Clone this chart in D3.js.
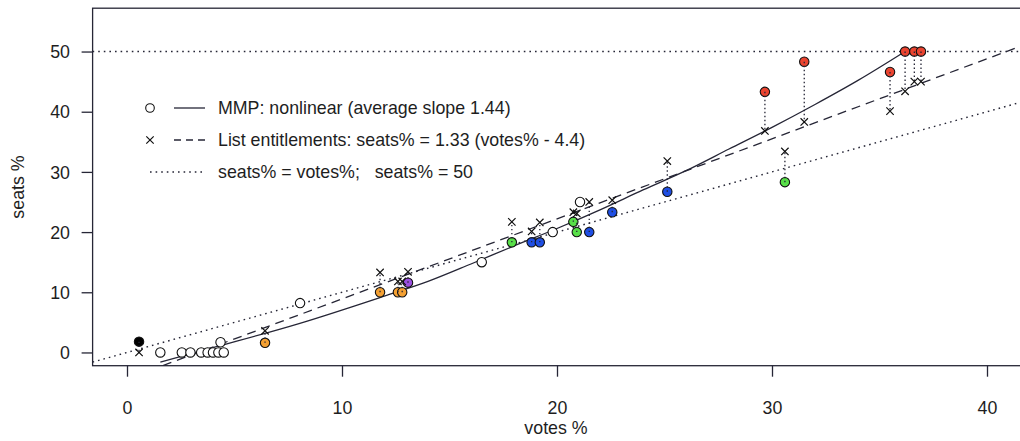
<!DOCTYPE html>
<html lang="en">
<head>
   <meta charset="UTF-8">
   <title>MMP seats vs votes</title>
   <script src="https://cdn.jsdelivr.net/npm/d3@7"></script>
   <style>
      body { margin: 0; background: #fff; }
      svg { display: block; font-family: 'Liberation Sans', Arial, sans-serif; }
   </style>
</head>
<body>
   <div class="d3"></div>
   <script>
      // data
      const votes = [0.56, 1.55, 2.55, 2.95, 3.45, 3.75, 4.0, 4.25, 4.5, 4.35, 6.42, 8.05,
         11.77, 12.6, 12.8, 13.07, 16.5, 17.9, 18.82, 19.2, 19.8, 20.76, 20.92, 21.07,
         21.5, 22.57, 25.13, 29.67, 30.6, 31.5, 35.49, 36.19, 36.62, 36.93]
      const seats = [1.8, 0, 0, 0, 0, 0, 0, 0, 0, 1.7, 1.6, 8.2,
         10.0, 10.0, 10.0, 11.6, 15.0, 18.3, 18.3, 18.3, 20.0, 21.7, 20.0, 25.0,
         20.0, 23.3, 26.7, 43.3, 28.3, 48.3, 46.6, 50, 50, 50]
      // list entitlements (null = not shown)
      const listSeats = [0, null, null, null, null, null, null, null, null, null, 3.6, null,
         13.3, 11.8, 11.8, 13.4, null, 21.7, 20.1, 21.6, null, 23.3, 23.1, null,
         25.0, 25.3, 31.8, 36.8, 33.4, 38.3, 40.1, 43.4, 45.0, 45.0]
      const party = ['black', 'none', 'none', 'none', 'none', 'none', 'none', 'none', 'none', 'none', 'orange', 'none',
         'orange', 'orange', 'orange', 'purple', 'none', 'green', 'blue', 'blue', 'none', 'green', 'green', 'none',
         'blue', 'blue', 'blue', 'red', 'green', 'red', 'red', 'red', 'red', 'red']

      // MMP nonlinear curve
      const curveVotes = [1.55, 4, 8, 12, 14, 16, 18, 20, 22, 24, 26, 28, 30, 32, 34, 36.19]
      const curveSeats = [-1.6, 0.8, 4.8, 9.4, 11.8, 14.7, 17.7, 20.6, 23.7, 27.0, 30.2, 33.8, 37.4, 41.2, 45.2, 50]

      // list entitlement line: seats = slope * votes + intercept (as drawn)
      const listSlope = 1.33
      const listIntercept = -4.4

      const xTicks = [0, 10, 20, 30, 40]
      const yTicks = [0, 10, 20, 30, 40, 50]
      const legendLabels = [
         'MMP: nonlinear (average slope 1.44)',
         'List entitlements: seats% = 1.33 (votes% - 4.4)',
         'seats% = votes%;   seats% = 50'
      ]

      function visualize() {
         const WIDTH = 1020
         const HEIGHT = 441
         const LEFT = 92.6
         const RIGHT = 1021.4
         const TOP = 8.2
         const BOTTOM = 365.7
         const INK = '#262636'
         const TEXT = '#1e1e1e'
         const FONT_SIZE = 17.8
         const DOTS = '1.6,4'
         const DASH = '9,6'

         const svg = d3.select('.d3').append('svg')
            .attr('width', WIDTH)
            .attr('height', HEIGHT)

         const x = d3.scaleLinear().domain([-1.6, 41.6]).range([LEFT, RIGHT])
         const y = d3.scaleLinear().domain([-2.2, 57.2]).range([BOTTOM, TOP])

         const colour = d3.scaleOrdinal()
            .domain(['none', 'black', 'orange', 'purple', 'green', 'blue', 'red'])
            .range(['#ffffff', '#000000', '#f4a032', '#9a4fe0', '#58df48', '#1f4fe4', '#ea4430'])

         svg.append('clipPath').attr('id', 'plot')
            .append('rect')
            .attr('x', LEFT).attr('y', TOP)
            .attr('width', RIGHT - LEFT).attr('height', BOTTOM - TOP)

         const plot = svg.append('g').attr('clip-path', 'url(#plot)')

         // reference lines
         const [x0, x1] = x.domain()
         plot.append('line')
            .attr('x1', x(x0)).attr('y1', y(x0))
            .attr('x2', x(x1)).attr('y2', y(x1))
            .attr('stroke', INK).attr('stroke-width', 1.4).attr('stroke-dasharray', DOTS)
         plot.append('line')
            .attr('x1', x(x0)).attr('y1', y(50))
            .attr('x2', x(x1)).attr('y2', y(50))
            .attr('stroke', INK).attr('stroke-width', 1.4).attr('stroke-dasharray', DOTS)
         plot.append('line')
            .attr('x1', x(x0)).attr('y1', y(listSlope * x0 + listIntercept))
            .attr('x2', x(x1)).attr('y2', y(listSlope * x1 + listIntercept))
            .attr('stroke', INK).attr('stroke-width', 1.3).attr('stroke-dasharray', DASH)

         // nonlinear curve
         const line = d3.line()
            .x(d => x(d[0]))
            .y(d => y(d[1]))
            .curve(d3.curveMonotoneX)
         plot.append('path')
            .attr('d', line(d3.zip(curveVotes, curveSeats)))
            .attr('fill', 'none')
            .attr('stroke', INK)
            .attr('stroke-width', 1.3)

         const idx = d3.range(votes.length)

         // circles
         plot.selectAll('circle.pt').data(idx).join('circle')
            .attr('class', 'pt')
            .attr('cx', i => x(votes[i]))
            .attr('cy', i => y(seats[i]))
            .attr('r', 4.7)
            .attr('fill', i => colour(party[i]))
            .attr('stroke', '#111')
            .attr('stroke-width', 1.1)

         const withList = idx.filter(i => listSeats[i] !== null)

         // connectors
         plot.selectAll('line.link').data(withList).join('line')
            .attr('class', 'link')
            .attr('x1', i => x(votes[i])).attr('y1', i => y(seats[i]))
            .attr('x2', i => x(votes[i])).attr('y2', i => y(listSeats[i]))
            .attr('stroke', INK)
            .attr('stroke-width', 1.3)
            .attr('stroke-dasharray', '1.4,2.6')

         // list entitlement crosses
         const cross = s => `M${-s},${-s}L${s},${s}M${-s},${s}L${s},${-s}`
         plot.selectAll('path.x').data(withList).join('path')
            .attr('class', 'x')
            .attr('transform', i => `translate(${x(votes[i])},${y(listSeats[i])})`)
            .attr('d', cross(3.7))
            .attr('stroke', '#111')
            .attr('stroke-width', 1.2)

         // box
         svg.append('rect')
            .attr('x', LEFT).attr('y', TOP)
            .attr('width', RIGHT - LEFT).attr('height', BOTTOM - TOP)
            .attr('fill', 'none').attr('stroke', INK).attr('stroke-width', 1.3)

         // axes
         const xAxis = svg.append('g')
            .attr('transform', `translate(0,${BOTTOM})`)
            .call(d3.axisBottom(x).tickValues(xTicks).tickSize(11).tickSizeOuter(0))
         xAxis.select('.domain').remove()
         xAxis.selectAll('line').attr('stroke', INK).attr('stroke-width', 1.3)
         xAxis.selectAll('text')
            .attr('y', 42).attr('dy', '0.35em')
            .attr('font-size', FONT_SIZE).attr('fill', TEXT)
            .attr('font-family', "'Liberation Sans', Arial, sans-serif")

         const yAxis = svg.append('g')
            .attr('transform', `translate(${LEFT},0)`)
            .call(d3.axisLeft(y).tickValues(yTicks).tickSize(11).tickSizeOuter(0))
         yAxis.select('.domain').remove()
         yAxis.selectAll('line').attr('stroke', INK).attr('stroke-width', 1.3)
         yAxis.selectAll('text')
            .attr('x', -22.6).attr('dy', '0.35em')
            .attr('font-size', FONT_SIZE).attr('fill', TEXT)
            .attr('font-family', "'Liberation Sans', Arial, sans-serif")

         svg.append('text')
            .attr('x', 556).attr('y', 428).attr('dy', '0.35em')
            .attr('text-anchor', 'middle').attr('font-size', FONT_SIZE).attr('fill', TEXT)
            .text('votes %')
         svg.append('text')
            .attr('transform', 'translate(18,187) rotate(-90)')
            .attr('dy', '0.35em')
            .attr('text-anchor', 'middle').attr('font-size', FONT_SIZE).attr('fill', TEXT)
            .text('seats %')

         // legend
         const legend = svg.append('g')
         const rowY = [108, 140, 172]
         legend.append('circle')
            .attr('cx', 150).attr('cy', rowY[0]).attr('r', 4.3)
            .attr('fill', 'none').attr('stroke', '#111').attr('stroke-width', 1.1)
         legend.append('line')
            .attr('x1', 174).attr('x2', 205).attr('y1', rowY[0]).attr('y2', rowY[0])
            .attr('stroke', INK).attr('stroke-width', 1.3)
         legend.append('path')
            .attr('transform', `translate(150,${rowY[1]})`)
            .attr('d', cross(3.7)).attr('stroke', '#111').attr('stroke-width', 1.2)
         legend.append('line')
            .attr('x1', 174).attr('x2', 205).attr('y1', rowY[1]).attr('y2', rowY[1])
            .attr('stroke', INK).attr('stroke-width', 1.3).attr('stroke-dasharray', '7,5')
         legend.append('line')
            .attr('x1', 150).attr('x2', 203).attr('y1', rowY[2]).attr('y2', rowY[2])
            .attr('stroke', INK).attr('stroke-width', 1.4).attr('stroke-dasharray', DOTS)
         legend.selectAll('text').data(legendLabels).join('text')
            .attr('x', 218).attr('y', (d, i) => rowY[i]).attr('dy', '0.35em')
            .attr('font-size', FONT_SIZE).attr('fill', TEXT)
            .style('white-space', 'pre')
            .attr('xml:space', 'preserve')
            .text(d => d)
      }

      window.onload = visualize
   </script>
</body>
</html>
